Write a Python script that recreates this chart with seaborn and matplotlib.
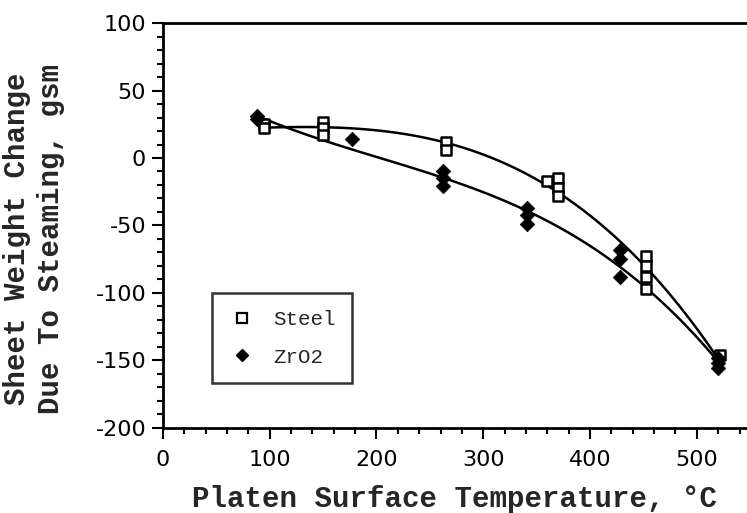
import matplotlib
matplotlib.use("Agg")
import matplotlib.pyplot as plt
from matplotlib.lines import Line2D
from matplotlib.ticker import MultipleLocator
import pandas as pd
import seaborn as sns

# Sheet weight change after steaming vs. platen surface temperature
steel_temp = [95, 95, 150, 150, 150, 265, 265, 360, 370, 370, 370, 452, 452, 452, 452, 522]
steel_change = [25, 22, 27, 22, 17, 12, 6, -17, -15, -22, -28, -73, -80, -88, -97, -146]

zro2_temp = [88, 88, 177, 262, 262, 262, 341, 341, 341, 428, 428, 428, 520, 520, 520]
zro2_change = [31, 29, 14, -10, -15, -21, -37, -42, -49, -68, -75, -88, -148, -152, -156]

x_ticks = [0, 100, 200, 300, 400, 500]
y_ticks = [-200, -150, -100, -50, 0, 50, 100]

steel = pd.DataFrame({"temp": steel_temp, "change": steel_change})
zro2 = pd.DataFrame({"temp": zro2_temp, "change": zro2_change})

sns.set_style("ticks")
plt.rcParams["font.family"] = ["DejaVu Sans"]
plt.rcParams["axes.unicode_minus"] = False

fig = plt.figure(figsize=(7.47, 5.13), dpi=100)
ax = fig.add_axes([0.218, 0.166, 0.782, 0.789])

# cubic fit curves through each data set
sns.regplot(data=steel, x="temp", y="change", order=3, ci=None, scatter=False,
            line_kws={"color": "black", "lw": 1.8}, ax=ax)
sns.regplot(data=zro2, x="temp", y="change", order=3, ci=None, scatter=False,
            line_kws={"color": "black", "lw": 1.8}, ax=ax)

sns.scatterplot(data=steel, x="temp", y="change", marker="s", s=60,
                facecolor="white", edgecolor="black", linewidth=1.8, ax=ax, zorder=3)
sns.scatterplot(data=zro2, x="temp", y="change", marker="D", s=55,
                color="black", edgecolor="black", linewidth=0.5, ax=ax, zorder=4)

ax.set_xlim(0, 547)
ax.set_ylim(-200, 100)
ax.set_xticks(x_ticks)
ax.set_yticks(y_ticks)
ax.xaxis.set_minor_locator(MultipleLocator(20))
ax.yaxis.set_minor_locator(MultipleLocator(10))
ax.tick_params(which="major", direction="out", length=8, width=1.5,
               labelsize=16, colors="black", pad=4)
ax.tick_params(axis="x", which="major", pad=8)
ax.tick_params(which="minor", direction="out", length=4, width=1.5, colors="black")

for side in ("left", "bottom", "top"):
    ax.spines[side].set_linewidth(2)
    ax.spines[side].set_color("black")
ax.spines["right"].set_visible(False)

label_font = dict(family="Liberation Mono", weight="bold", size=21)
ax.set_xlabel("Platen Surface Temperature, °C", **label_font)
ax.xaxis.set_label_coords(0.5, -0.14)
ax.set_ylabel("")
fig.text(0.023, 0.535, "Sheet Weight Change", rotation=90, ha="center", va="center", **label_font)
fig.text(0.068, 0.535, "Due To Steaming, gsm", rotation=90, ha="center", va="center", **label_font)

handles = [
    Line2D([], [], ls="none", marker="s", ms=7, mfc="white", mec="black", mew=1.6, label="Steel"),
    Line2D([], [], ls="none", marker="D", ms=6, mfc="black", mec="black", label="ZrO2"),
]
leg = ax.legend(handles=handles, loc="lower left", bbox_to_anchor=(0.085, 0.11),
                prop={"family": "Liberation Mono", "size": 15}, frameon=True,
                fancybox=False, edgecolor="black", handletextpad=0.9,
                borderpad=0.8, labelspacing=0.9, handlelength=1.2, borderaxespad=0)
leg.get_frame().set_linewidth(1.8)

fig.savefig("out.png", dpi=100, facecolor="white")
